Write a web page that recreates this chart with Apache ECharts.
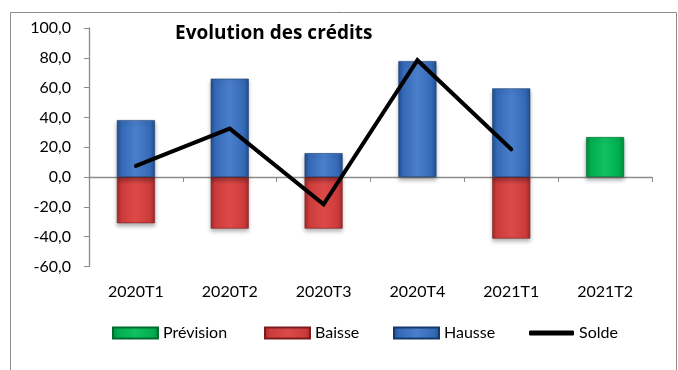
<!DOCTYPE html>
<html>
<head>
<meta charset="utf-8">
<script src="https://cdn.jsdelivr.net/npm/echarts@6/dist/echarts.min.js"></script>
<style>
  html, body { margin: 0; padding: 0; background: #fff; }
  #chart { width: 678px; height: 370px; }
</style>
</head>
<body>
<div id="chart"></div>
<script>
// Quarterly credit survey: rises, falls, net balance and forecast
const categories = ['2020T1', '2020T2', '2020T3', '2020T4', '2021T1', '2021T2'];
const hausse   = [38.2, 66.0, 16.0, 77.8, 59.5, null];
const baisse   = [-31.0, -34.6, -34.6, null, -41.3, null];
const prevision = [null, null, null, null, null, 26.8];
const solde    = [7.4, 32.5, -18.3, 78.4, 18.6, null];
const yTicks = { min: -60, max: 100, step: 20 };

const font = 'Lato, "Open Sans", sans-serif';

function bevel(dark, mid, light) {
  return new echarts.graphic.LinearGradient(0, 0, 1, 0, [
    { offset: 0, color: dark },
    { offset: 0.12, color: mid },
    { offset: 0.5, color: light },
    { offset: 0.88, color: mid },
    { offset: 1, color: dark }
  ]);
}

const blue = bevel('#1f4f94', '#3569b5', '#4a7fcc');
const red = bevel('#a52a2a', '#cc3b3b', '#dc4a48');
const green = bevel('#008a3c', '#00ad4e', '#10c260');

const barShadow = { shadowBlur: 4, shadowColor: 'rgba(0,0,0,0.3)', shadowOffsetY: 3 };

const chart = echarts.init(document.getElementById('chart'), null, { renderer: 'canvas' });

function legendAt(name, left, opts) {
  return Object.assign({
    data: [name],
    left: left,
    top: 325,
    padding: 0,
    icon: 'rect',
    itemWidth: 45,
    itemHeight: 11,
    textStyle: { fontFamily: font, fontSize: 16, color: '#000' }
  }, opts || {});
}

chart.setOption({
  animation: false,
  backgroundColor: '#fff',
  title: {
    text: 'Evolution des crédits',
    left: 175,
    top: 24,
    padding: 0,
    textStyle: { fontFamily: '"Open Sans", Lato, sans-serif', fontSize: 19, fontWeight: 'bold', color: '#000' }
  },
  graphic: [{
    type: 'rect',
    shape: { x: 10.5, y: 12.5, width: 666, height: 400 },
    style: { fill: 'none', stroke: '#8c8c8c', lineWidth: 1 },
    silent: true
  }],
  legend: [
    legendAt('Prévision', 112),
    legendAt('Baisse', 264),
    legendAt('Hausse', 393),
    legendAt('Solde', 529, { itemHeight: 5, icon: 'roundRect' })
  ],
  grid: { left: 89, right: 26, top: 28, bottom: 103.6 },
  xAxis: {
    type: 'category',
    data: categories,
    axisLine: { onZero: true, lineStyle: { color: '#8c8c8c', width: 1.3 } },
    axisTick: { show: true, length: 5, inside: false, lineStyle: { color: '#8c8c8c' } },
    axisLabel: { show: false }
  },
  yAxis: {
    type: 'value',
    min: yTicks.min,
    max: yTicks.max,
    interval: yTicks.step,
    splitLine: { show: false },
    axisLine: { show: true, lineStyle: { color: '#8c8c8c', width: 1.3 } },
    axisTick: { show: true, length: 5, lineStyle: { color: '#8c8c8c' } },
    axisLabel: {
      fontFamily: font, fontSize: 16, color: '#000', margin: 18,
      formatter: v => v.toFixed(1).replace('.', ',')
    }
  },
  series: [
    {
      name: 'Prévision', type: 'bar', stack: 'q', barWidth: 38,
      data: prevision,
      itemStyle: Object.assign({ color: green, borderColor: '#006b2e', borderWidth: 0.6 }, barShadow)
    },
    {
      name: 'Baisse', type: 'bar', stack: 'q', barWidth: 38,
      data: baisse,
      itemStyle: Object.assign({ color: red, borderColor: '#7a1c1c', borderWidth: 0.6 }, barShadow)
    },
    {
      name: 'Hausse', type: 'bar', stack: 'q', barWidth: 38,
      data: hausse,
      itemStyle: Object.assign({ color: blue, borderColor: '#15386b', borderWidth: 0.6 }, barShadow)
    },
    {
      name: 'Solde', type: 'line',
      data: solde,
      symbol: 'none',
      itemStyle: { color: '#000' },
      lineStyle: { color: '#000', width: 4, cap: 'round', join: 'miter' },
      z: 5
    },
    {
      // category labels sit under the plot, below the negative range
      type: 'custom',
      renderItem: (params, api) => {
        const p = api.coord([api.value(0), yTicks.min]);
        return {
          type: 'text',
          style: {
            text: categories[api.value(0)],
            x: p[0], y: p[1] + 25,
            align: 'center', verticalAlign: 'middle',
            font: '16px ' + font, fill: '#000'
          }
        };
      },
      data: categories.map((c, i) => [i]),
      silent: true
    }
  ]
});
</script>
</body>
</html>
